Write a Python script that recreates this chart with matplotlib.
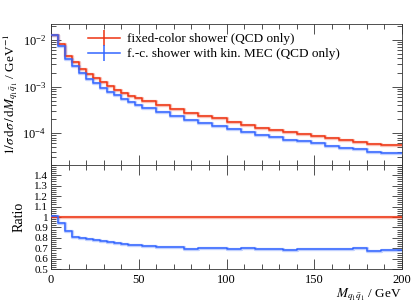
import numpy as np
import matplotlib
matplotlib.use("Agg")
import matplotlib.pyplot as plt
from matplotlib.lines import Line2D
from matplotlib.ticker import MultipleLocator, FixedLocator, FixedFormatter, LogLocator, NullFormatter

# -----------------------------
# Data
# -----------------------------
edges = [0, 4, 8, 12, 16, 20, 24, 28, 32, 36, 40, 44, 48, 52,
         60, 68, 76, 84, 92, 100, 108, 116, 124, 132, 140, 148, 156,
         164, 172, 180, 188, 200]

fixed_color = [0.0128, 0.00809, 0.00454, 0.00338, 0.00239, 0.00187, 0.00150,
               0.00123, 0.00101, 0.000859, 0.000740, 0.000641, 0.000561,
               0.000486, 0.000395, 0.000325, 0.000274, 0.000236, 0.000207,
               0.000175, 0.000151, 0.000132, 0.000118, 0.000106, 9.58e-5,
               8.67e-5, 7.86e-5, 7.12e-5, 6.45e-5, 5.93e-5, 5.45e-5]

kin_mec = [0.01293, 0.00760, 0.00392, 0.002745, 0.001912, 0.001474, 0.001166,
           0.000945, 0.000765, 0.000643, 0.000548, 0.000470, 0.000410,
           0.000351, 0.000282, 0.000231, 0.0001915, 0.0001652, 0.0001449,
           0.0001211, 0.0001057, 9.17e-5, 8.14e-5, 7.26e-5, 6.63e-5,
           6.02e-5, 5.42e-5, 4.91e-5, 4.52e-5, 4.00e-5, 3.71e-5]

labels = ["fixed-color shower (QCD only)", "f.-c. shower with kin. MEC (QCD only)"]
colors = ["#EE3311", "#3366FF"]

ratio_ticks = [0.5, 0.6, 0.7, 0.8, 0.9, 1.0, 1.1, 1.2, 1.3, 1.4]
ratio_labels = ["0.5", "0.6", "0.7", "0.8", "0.9", "1", "1.1", "1.2", "1.3", "1.4"]

# -----------------------------
# Style
# -----------------------------
plt.rcParams["font.family"] = ["Liberation Serif", "DejaVu Serif"]
plt.rcParams["mathtext.fontset"] = "stix"
plt.rcParams["font.size"] = 9.5

edges = np.array(edges)
series = [np.array(fixed_color), np.array(kin_mec)]
ref = series[0]

fig = plt.figure(figsize=(4.15, 3.05), dpi=100)
ax = fig.add_axes([0.1229, 0.460, 0.8458, 0.4613])
axr = fig.add_axes([0.1229, 0.117, 0.8458, 0.343], sharex=ax)


def step(a, y, c, lw=1.1):
    yy = np.append(y, y[-1])
    a.step(edges, yy, where="post", color=c, lw=2.4, alpha=0.3, zorder=2)
    a.step(edges, yy, where="post", color=c, lw=lw, zorder=3)


for y, c in zip(series, colors):
    step(ax, y, c)
    step(axr, y / ref, c)

# -----------------------------
# Main panel
# -----------------------------
ax.set_yscale("log")
ax.set_xlim(0, 200)
ax.set_ylim(2.1e-5, 0.022)
ax.yaxis.set_major_locator(LogLocator(base=10, numticks=10))
ax.yaxis.set_minor_locator(LogLocator(base=10, subs=np.arange(2, 10), numticks=10))
ax.yaxis.set_minor_formatter(NullFormatter())
ax.set_ylabel(r"$1/\sigma\,\mathrm{d}\sigma\,/\,\mathrm{d}M_{q_1\bar{q}_1}$ / GeV$^{-1}$",
              fontsize=9.5, labelpad=2)
plt.setp(ax.get_xticklabels(), visible=False)

handles = [Line2D([], [], color=c, lw=1.1, marker="|", markersize=11, mew=1.1)
           for c in colors]
ax.legend(handles, labels, loc="upper left", bbox_to_anchor=(0.08, 1.0),
          frameon=False, fontsize=9.5, handlelength=2.4, handletextpad=0.5,
          labelspacing=0.2, numpoints=1, borderaxespad=0.3)

# -----------------------------
# Ratio panel
# -----------------------------
axr.set_ylim(0.5, 1.5)
axr.yaxis.set_major_locator(FixedLocator(ratio_ticks))
axr.yaxis.set_major_formatter(FixedFormatter(ratio_labels))
axr.yaxis.set_minor_locator(MultipleLocator(0.02))
axr.set_ylabel("Ratio", fontsize=10, labelpad=6)
axr.xaxis.set_major_locator(MultipleLocator(50))
axr.xaxis.set_minor_locator(MultipleLocator(10))
axr.set_xlabel(r"$M_{q_1\bar{q}_1}$ / GeV", fontsize=9.5, loc="right", labelpad=0)

for a in (ax, axr):
    a.tick_params(which="both", direction="in", top=True, right=True,
                  color="#333333", width=0.6)
    a.tick_params(which="major", length=7, labelsize=9)
    a.tick_params(which="minor", length=3.5)
    for s in a.spines.values():
        s.set_linewidth(0.6)
        s.set_color("#333333")
axr.tick_params(axis="y", which="major", labelsize=8, pad=2)

fig.savefig("out.png", dpi=100)
